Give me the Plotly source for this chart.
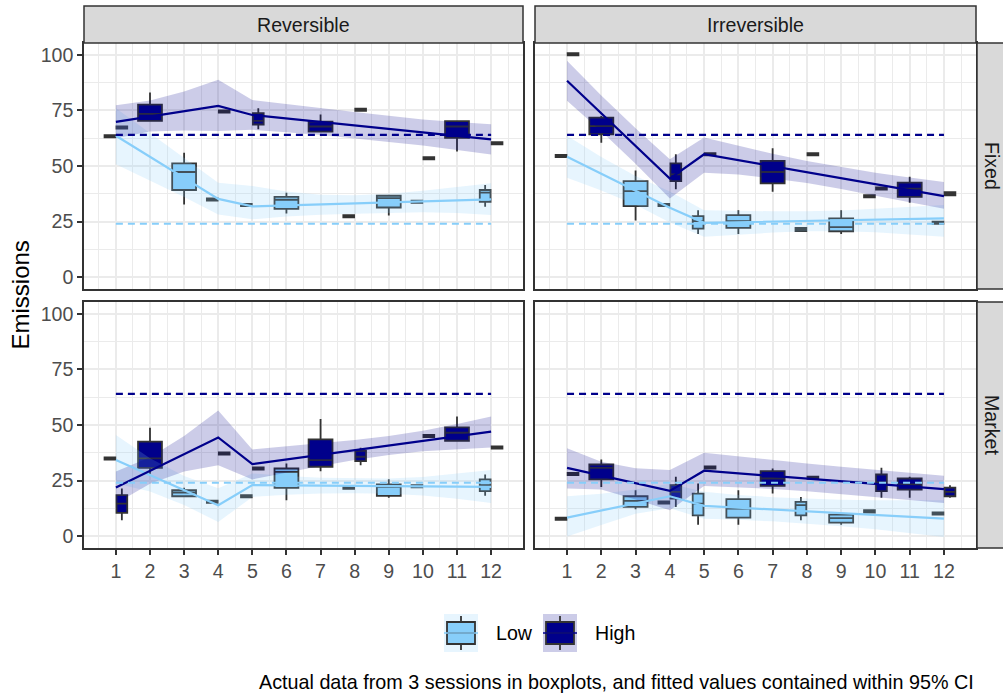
import plotly.graph_objects as go

# ---------------- data ----------------
PERIODS = list(range(1, 13))
TICK_LABELS = [str(p) for p in PERIODS]
Y_TICKS = [0, 25, 50, 75, 100]
GROUPS = ["Low", "High"]
TREATMENTS = ["Reversible", "Irreversible"]
INSTRUMENTS = ["Fixed", "Market"]

THEORY_LOW = 24
THEORY_HIGH = 64

# box statistics: (period, lower whisker, q1, median, q3, upper whisker)
BOX_REV_FIX_LOW = [
    (1, 62.9, 62.9, 63.4, 63.9, 63.9),
    (3, 32.7, 39.2, 47.3, 51.2, 56.0),
    (4, 34.4, 34.4, 34.9, 35.4, 35.4),
    (5, 31.9, 31.9, 32.4, 32.9, 32.9),
    (6, 28.6, 30.7, 34.8, 36.1, 38.0),
    (8, 26.9, 26.9, 27.4, 27.9, 27.9),
    (9, 27.7, 31.3, 35.5, 36.6, 37.0),
    (10, 33.4, 33.4, 33.9, 34.4, 34.4),
    (12, 31.6, 33.9, 38.0, 39.2, 41.4),
]
BOX_REV_FIX_HIGH = [
    (1, 66.8, 66.8, 67.3, 67.8, 67.8),
    (2, 70.3, 70.3, 73.5, 77.6, 83.1),
    (4, 74.0, 74.0, 74.5, 75.0, 75.0),
    (5, 66.6, 68.7, 70.3, 73.8, 76.0),
    (7, 65.5, 65.5, 67.8, 70.0, 73.2),
    (8, 74.8, 74.8, 75.3, 75.8, 75.8),
    (10, 53.0, 53.0, 53.5, 54.0, 54.0),
    (11, 56.5, 62.7, 67.8, 70.2, 70.2),
    (12, 59.7, 59.7, 60.2, 60.7, 60.7),
]
BOX_IRR_FIX_LOW = [
    (1, 54.0, 54.0, 54.5, 55.0, 55.0),
    (3, 25.5, 31.9, 38.7, 43.2, 48.0),
    (4, 31.9, 31.9, 32.4, 32.9, 32.9),
    (5, 19.4, 21.8, 25.2, 27.4, 30.1),
    (6, 19.4, 22.1, 25.2, 27.9, 30.1),
    (8, 20.7, 20.7, 21.4, 22.1, 22.1),
    (9, 19.4, 20.6, 22.5, 26.4, 30.1),
    (10, 35.9, 35.9, 36.4, 36.9, 36.9),
    (12, 23.9, 23.9, 24.4, 24.9, 24.9),
]
BOX_IRR_FIX_HIGH = [
    (1, 99.8, 99.8, 100.3, 100.8, 100.8),
    (2, 60.5, 64.3, 68.0, 71.8, 72.5),
    (4, 39.5, 43.2, 46.2, 51.2, 55.3),
    (5, 54.8, 54.8, 55.3, 55.8, 55.8),
    (7, 38.4, 42.2, 47.3, 52.3, 58.0),
    (8, 54.8, 54.8, 55.3, 55.8, 55.8),
    (10, 39.4, 39.4, 39.9, 40.4, 40.4),
    (11, 33.4, 36.1, 39.8, 42.5, 45.2),
    (12, 36.8, 36.8, 37.5, 38.2, 38.2),
]
BOX_REV_MKT_LOW = [
    (1, 34.4, 34.4, 34.9, 35.4, 35.4),
    (3, 17.6, 17.9, 19.5, 20.6, 21.7),
    (4, 14.9, 14.9, 15.4, 15.9, 15.9),
    (5, 17.4, 17.4, 17.9, 18.4, 18.4),
    (6, 16.1, 21.7, 28.9, 30.4, 32.7),
    (8, 21.2, 21.2, 21.7, 22.2, 22.2),
    (9, 17.2, 18.1, 22.1, 23.2, 25.6),
    (10, 21.9, 21.9, 22.4, 22.9, 22.9),
    (12, 18.1, 20.2, 22.9, 25.5, 27.7),
]
BOX_REV_MKT_HIGH = [
    (1, 7.1, 10.4, 14.6, 18.4, 21.4),
    (2, 28.0, 30.7, 35.0, 42.5, 48.8),
    (4, 36.7, 36.7, 37.2, 37.7, 37.7),
    (5, 29.9, 29.9, 30.4, 30.9, 30.9),
    (7, 29.2, 31.2, 34.2, 43.5, 52.7),
    (8, 31.9, 33.7, 35.7, 38.4, 39.8),
    (10, 44.5, 44.5, 45.0, 45.5, 45.5),
    (11, 42.9, 42.9, 46.5, 48.9, 53.8),
    (12, 39.4, 39.4, 39.9, 40.4, 40.4),
]
BOX_IRR_MKT_LOW = [
    (1, 7.3, 7.3, 7.8, 8.3, 8.3),
    (3, 12.0, 13.1, 15.8, 17.9, 20.6),
    (4, 14.6, 14.6, 15.1, 15.6, 15.6),
    (5, 5.1, 9.3, 14.6, 19.1, 23.6),
    (6, 5.1, 8.3, 12.3, 16.6, 20.6),
    (8, 7.1, 9.3, 13.9, 15.4, 17.6),
    (9, 5.1, 6.0, 8.1, 9.6, 9.6),
    (10, 10.6, 10.6, 11.1, 11.6, 11.6),
    (12, 9.6, 9.6, 10.1, 10.6, 10.6),
]
BOX_IRR_MKT_HIGH = [
    (1, 27.4, 27.4, 27.9, 28.4, 28.4),
    (2, 22.1, 25.5, 30.7, 32.2, 34.5),
    (4, 13.1, 16.9, 19.9, 22.9, 26.7),
    (5, 30.4, 30.4, 30.9, 31.4, 31.4),
    (7, 19.1, 22.6, 25.9, 29.2, 30.4),
    (8, 25.7, 25.7, 26.2, 26.7, 26.7),
    (10, 17.2, 20.2, 24.1, 27.7, 30.7),
    (11, 17.2, 20.9, 23.3, 25.9, 26.7),
    (12, 17.2, 17.9, 19.9, 21.8, 22.9),
]

# fitted values and 95% CI per period
FIT_REV_FIX_LOW = [63.6, 54.1, 44.7, 35.2, 31.8, 32.3, 32.7, 33.2, 33.6, 34.1, 34.5, 35.0]
CI_REV_FIX_LOW_LO = [50.8, 43.5, 36.0, 28.2, 26.0, 27.3, 28.0, 28.5, 29.0, 29.2, 28.8, 27.9]
CI_REV_FIX_LOW_HI = [76.0, 64.7, 53.4, 42.5, 41.0, 38.5, 37.0, 36.8, 37.5, 38.8, 40.5, 42.2]
FIT_REV_FIX_HIGH = [69.9, 72.3, 74.7, 77.1, 73.0, 71.4, 69.9, 68.3, 66.7, 65.1, 63.6, 62.0]
CI_REV_FIX_HIGH_LO = [62.5, 65.5, 66.0, 65.8, 66.3, 65.2, 64.0, 62.5, 60.8, 59.2, 57.3, 55.2]
CI_REV_FIX_HIGH_HI = [77.4, 79.5, 83.5, 88.9, 79.7, 77.8, 76.0, 74.3, 72.6, 71.0, 69.8, 68.8]

FIT_IRR_FIX_LOW = [54.2, 46.5, 38.9, 31.2, 24.4, 24.7, 25.0, 25.3, 25.5, 25.8, 26.1, 26.4]
CI_IRR_FIX_LOW_LO = [44.7, 39.0, 32.5, 24.5, 18.1, 19.2, 20.0, 20.6, 20.6, 20.2, 19.3, 18.1]
CI_IRR_FIX_LOW_HI = [63.6, 54.0, 45.5, 38.5, 30.1, 29.8, 29.6, 29.6, 30.0, 30.8, 31.6, 32.4]
FIT_IRR_FIX_HIGH = [88.4, 73.7, 59.0, 44.3, 55.3, 52.6, 49.9, 47.2, 44.5, 41.8, 39.1, 36.4]
CI_IRR_FIX_HIGH_LO = [79.4, 65.7, 51.0, 35.4, 47.0, 46.2, 44.4, 42.3, 39.6, 36.6, 33.5, 30.7]
CI_IRR_FIX_HIGH_HI = [97.4, 81.7, 67.0, 53.0, 62.8, 59.0, 55.5, 52.2, 49.5, 47.0, 44.8, 42.8]

FIT_REV_MKT_LOW = [34.2, 27.4, 20.6, 13.9, 22.9, 22.8, 22.7, 22.6, 22.4, 22.3, 22.2, 22.1]
CI_REV_MKT_LOW_LO = [23.6, 20.0, 14.0, 6.3, 17.6, 18.6, 19.2, 19.3, 19.0, 18.2, 16.8, 14.9]
CI_REV_MKT_LOW_HI = [45.5, 35.0, 27.0, 21.5, 28.2, 27.0, 26.2, 25.9, 25.9, 26.6, 28.0, 29.7]
FIT_REV_MKT_HIGH = [21.8, 29.3, 36.9, 44.4, 32.4, 34.5, 36.6, 38.7, 40.7, 42.8, 44.9, 47.0]
CI_REV_MKT_HIGH_LO = [14.6, 23.5, 29.0, 31.9, 25.5, 28.5, 31.5, 34.2, 36.5, 38.2, 39.2, 39.9]
CI_REV_MKT_HIGH_HI = [29.0, 35.5, 45.0, 56.5, 39.0, 40.3, 41.7, 43.2, 45.0, 47.4, 50.5, 53.8]

FIT_IRR_MKT_LOW = [8.3, 11.5, 14.7, 17.9, 13.6, 12.8, 11.9, 11.1, 10.3, 9.5, 8.6, 7.8]
CI_IRR_MKT_LOW_LO = [-0.2, 5.0, 10.0, 12.5, 7.8, 7.3, 6.6, 5.6, 4.4, 3.0, 1.3, -0.5]
CI_IRR_MKT_LOW_HI = [17.9, 19.0, 21.0, 23.5, 19.9, 18.5, 17.5, 16.8, 16.3, 16.1, 16.0, 16.1]
FIT_IRR_MKT_HIGH = [30.7, 27.2, 23.8, 20.3, 29.4, 28.2, 27.0, 25.8, 24.7, 23.5, 22.3, 21.1]
CI_IRR_MKT_HIGH_LO = [21.4, 21.0, 16.5, 11.6, 22.5, 22.0, 21.2, 20.2, 19.0, 17.6, 16.3, 14.9]
CI_IRR_MKT_HIGH_HI = [39.5, 33.5, 30.5, 29.7, 37.5, 35.8, 34.2, 32.7, 31.2, 29.8, 28.4, 27.1]

CAPTION = "Actual data from 3 sessions in boxplots, and fitted values contained within 95% CI"
Y_TITLE = "Emissions"

# ---------------- style ----------------
W, H = 1003, 694
FONT = "Liberation Sans, Arial, Helvetica, sans-serif"
FS = 19.6
FILL = {"Low": "#87CEFA", "High": "#00008B"}
RIBBON = {"Low": "rgba(135,206,250,0.2)", "High": "rgba(0,0,139,0.2)"}
KEY_BG = {"Low": "#E7F5FE", "High": "#CCCCE8"}
OUTLINE = "#333333"
GRID = "#EBEBEB"
STRIP = "#D9D9D9"
FULL_W = 0.7
HALF_W = 0.315
DODGE = 0.175

X_DOM_PX = [(84, 523), (535, 976)]
Y_DOM_PX = [(43, 289), (302, 548)]
X_RANGE = [0.065, 12.935]
Y_RANGE = [-5.4, 105.4]


def fx(px):
    return px / W


def fy(px):
    return 1 - px / H


panels = [
    dict(row=0, col=0,
         boxes={"Low": BOX_REV_FIX_LOW, "High": BOX_REV_FIX_HIGH},
         fit={"Low": FIT_REV_FIX_LOW, "High": FIT_REV_FIX_HIGH},
         lo={"Low": CI_REV_FIX_LOW_LO, "High": CI_REV_FIX_HIGH_LO},
         hi={"Low": CI_REV_FIX_LOW_HI, "High": CI_REV_FIX_HIGH_HI}),
    dict(row=0, col=1,
         boxes={"Low": BOX_IRR_FIX_LOW, "High": BOX_IRR_FIX_HIGH},
         fit={"Low": FIT_IRR_FIX_LOW, "High": FIT_IRR_FIX_HIGH},
         lo={"Low": CI_IRR_FIX_LOW_LO, "High": CI_IRR_FIX_HIGH_LO},
         hi={"Low": CI_IRR_FIX_LOW_HI, "High": CI_IRR_FIX_HIGH_HI}),
    dict(row=1, col=0,
         boxes={"Low": BOX_REV_MKT_LOW, "High": BOX_REV_MKT_HIGH},
         fit={"Low": FIT_REV_MKT_LOW, "High": FIT_REV_MKT_HIGH},
         lo={"Low": CI_REV_MKT_LOW_LO, "High": CI_REV_MKT_HIGH_LO},
         hi={"Low": CI_REV_MKT_LOW_HI, "High": CI_REV_MKT_HIGH_HI}),
    dict(row=1, col=1,
         boxes={"Low": BOX_IRR_MKT_LOW, "High": BOX_IRR_MKT_HIGH},
         fit={"Low": FIT_IRR_MKT_LOW, "High": FIT_IRR_MKT_HIGH},
         lo={"Low": CI_IRR_MKT_LOW_LO, "High": CI_IRR_MKT_HIGH_LO},
         hi={"Low": CI_IRR_MKT_LOW_HI, "High": CI_IRR_MKT_HIGH_HI}),
]

fig = go.Figure()
layout = dict(
    width=W, height=H, autosize=False,
    margin=dict(l=0, r=0, t=0, b=0),
    paper_bgcolor="white", plot_bgcolor="white",
    template="none", showlegend=False, boxmode="overlay",
    font=dict(family=FONT, size=FS, color="#000000"),
)

for i, p in enumerate(panels):
    n = i + 1
    xa = "x" if n == 1 else f"x{n}"
    ya = "y" if n == 1 else f"y{n}"
    common = dict(xaxis=xa, yaxis=ya, showlegend=False, hoverinfo="skip")

    # CI ribbons
    for g in GROUPS:
        fig.add_trace(go.Scatter(
            x=PERIODS + PERIODS[::-1], y=p["hi"][g] + p["lo"][g][::-1],
            fill="toself", fillcolor=RIBBON[g], mode="lines",
            line=dict(width=0, color=RIBBON[g]), **common))

    # boxplots, dodged when both groups share a period
    both = {b[0] for b in p["boxes"]["Low"]} & {b[0] for b in p["boxes"]["High"]}
    for g, sign in (("Low", -1), ("High", 1)):
        for dodged in (False, True):
            sel = [b for b in p["boxes"][g] if (b[0] in both) == dodged]
            if not sel:
                continue
            fig.add_trace(go.Box(
                x=[b[0] + (sign * DODGE if dodged else 0) for b in sel],
                lowerfence=[b[1] for b in sel], q1=[b[2] for b in sel],
                median=[b[3] for b in sel], q3=[b[4] for b in sel],
                upperfence=[b[5] for b in sel],
                width=HALF_W if dodged else FULL_W,
                fillcolor=FILL[g], line=dict(color=OUTLINE, width=1.8),
                whiskerwidth=0, boxpoints=False, orientation="v", **common))

    # fitted lines
    for g in GROUPS:
        fig.add_trace(go.Scatter(x=PERIODS, y=p["fit"][g], mode="lines",
                                 line=dict(color=FILL[g], width=2.2), **common))

    # theoretical predictions (dashed)
    for g, val in (("Low", THEORY_LOW), ("High", THEORY_HIGH)):
        fig.add_trace(go.Scatter(x=[PERIODS[0], PERIODS[-1]], y=[val, val], mode="lines",
                                 line=dict(color=FILL[g], width=2.2, dash="7px,5px"), **common))

    row, col = p["row"], p["col"]
    xd = [fx(X_DOM_PX[col][0]), fx(X_DOM_PX[col][1])]
    yd = [fy(Y_DOM_PX[row][1]), fy(Y_DOM_PX[row][0])]
    layout["xaxis" if n == 1 else f"xaxis{n}"] = dict(
        domain=xd, range=X_RANGE, anchor=ya, automargin=False,
        tickmode="array", tickvals=PERIODS, ticktext=TICK_LABELS,
        showticklabels=(row == 1), ticks="outside" if row == 1 else "",
        ticklen=5, tickwidth=1.5, tickcolor=OUTLINE,
        tickfont=dict(size=FS, color="#4D4D4D", family=FONT),
        showgrid=True, gridcolor=GRID, gridwidth=1.5, zeroline=False,
        minor=dict(tickmode="array", tickvals=[v - 0.5 for v in PERIODS] + [PERIODS[-1] + 0.5],
                   showgrid=True, gridcolor=GRID, gridwidth=0.8, ticks=""),
        showline=True, linecolor=OUTLINE, linewidth=1.5, mirror=True,
    )
    layout["yaxis" if n == 1 else f"yaxis{n}"] = dict(
        domain=yd, range=Y_RANGE, anchor=xa, automargin=False,
        tickmode="array", tickvals=Y_TICKS, ticktext=[str(v) for v in Y_TICKS],
        showticklabels=(col == 0), ticks="outside" if col == 0 else "",
        ticklen=5, tickwidth=1.5, tickcolor=OUTLINE,
        tickfont=dict(size=FS, color="#4D4D4D", family=FONT),
        showgrid=True, gridcolor=GRID, gridwidth=1.5, zeroline=False,
        minor=dict(tickmode="array", tickvals=[12.5, 37.5, 62.5, 87.5],
                   showgrid=True, gridcolor=GRID, gridwidth=0.8, ticks=""),
        showline=True, linecolor=OUTLINE, linewidth=1.5, mirror=True,
    )

shapes = []
annotations = []
# facet strips
for c, label in enumerate(TREATMENTS):
    shapes.append(dict(type="rect", xref="paper", yref="paper",
                       x0=fx(X_DOM_PX[c][0]), x1=fx(X_DOM_PX[c][1]), y0=fy(43), y1=fy(6),
                       fillcolor=STRIP, line=dict(color=OUTLINE, width=1.5), layer="above"))
    annotations.append(dict(text=label, xref="paper", yref="paper", showarrow=False,
                            x=fx((X_DOM_PX[c][0] + X_DOM_PX[c][1]) / 2), y=fy(25),
                            xanchor="center", yanchor="middle",
                            font=dict(size=FS, color="#1A1A1A", family=FONT)))
for r, label in enumerate(INSTRUMENTS):
    shapes.append(dict(type="rect", xref="paper", yref="paper",
                       x0=fx(977), x1=fx(1015), y0=fy(Y_DOM_PX[r][1]), y1=fy(Y_DOM_PX[r][0]),
                       fillcolor=STRIP, line=dict(color=OUTLINE, width=1.5), layer="above"))
    annotations.append(dict(text=label, xref="paper", yref="paper", showarrow=False,
                            x=fx(992), y=fy((Y_DOM_PX[r][0] + Y_DOM_PX[r][1]) / 2),
                            xanchor="center", yanchor="middle", textangle=90,
                            font=dict(size=FS, color="#1A1A1A", family=FONT)))

# y-axis title
annotations.append(dict(text=Y_TITLE, xref="paper", yref="paper", showarrow=False,
                        x=fx(20), y=fy((Y_DOM_PX[0][0] + Y_DOM_PX[1][1]) / 2),
                        xanchor="center", yanchor="middle", textangle=-90,
                        font=dict(size=24, color="#000000", family=FONT)))

# legend (drawn manually)
LEG_CY = 633
KEY_H = 38
KEY_W = 34
for g, kx, tx in (("Low", 444, 494), ("High", 543, 593)):
    top, bot = LEG_CY - KEY_H / 2, LEG_CY + KEY_H / 2
    shapes.append(dict(type="rect", xref="paper", yref="paper",
                       x0=fx(kx), x1=fx(kx + KEY_W), y0=fy(bot), y1=fy(top),
                       fillcolor=KEY_BG[g], line=dict(width=0)))
    cx = kx + KEY_W / 2
    shapes.append(dict(type="line", xref="paper", yref="paper", x0=fx(cx), x1=fx(cx),
                       y0=fy(top + 2), y1=fy(bot - 2), line=dict(color=OUTLINE, width=1.8)))
    shapes.append(dict(type="rect", xref="paper", yref="paper",
                       x0=fx(kx + 3), x1=fx(kx + KEY_W - 3), y0=fy(LEG_CY + 11), y1=fy(LEG_CY - 11),
                       fillcolor=FILL[g], line=dict(color=OUTLINE, width=1.8)))
    shapes.append(dict(type="line", xref="paper", yref="paper", x0=fx(kx + 3), x1=fx(kx + KEY_W - 3),
                       y0=fy(LEG_CY), y1=fy(LEG_CY), line=dict(color=OUTLINE, width=1.8)))
    shapes.append(dict(type="line", xref="paper", yref="paper", x0=fx(kx), x1=fx(kx + KEY_W),
                       y0=fy(LEG_CY), y1=fy(LEG_CY), line=dict(color=FILL[g], width=1.5)))
    annotations.append(dict(text=g, xref="paper", yref="paper", showarrow=False,
                            x=fx(tx), y=fy(LEG_CY), xanchor="left", yanchor="middle",
                            font=dict(size=FS, color="#000000", family=FONT)))

# caption
annotations.append(dict(text=CAPTION, xref="paper", yref="paper", showarrow=False,
                        x=fx(976), y=fy(682), xanchor="right", yanchor="middle",
                        font=dict(size=19.75, color="#000000", family=FONT)))

layout["shapes"] = shapes
layout["annotations"] = annotations
fig.update_layout(**layout)
fig.write_html("out.html")
